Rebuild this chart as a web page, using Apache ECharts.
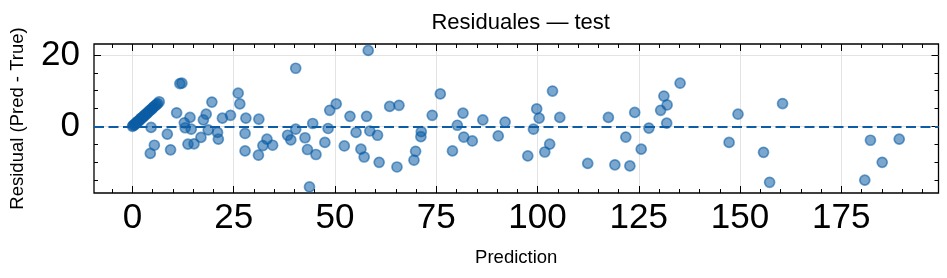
<!DOCTYPE html>
<html>
<head>
<meta charset="utf-8">
<script src="https://cdn.jsdelivr.net/npm/echarts@6/dist/echarts.min.js"></script>
<style>html,body{margin:0;padding:0;background:#fff;}#c{width:947px;height:278px;}</style>
</head>
<body>
<div id="c"></div>
<script>
// ---- data ----
var title = 'Residuales — test';
var xName = 'Prediction';
var yName = 'Residual (Pred - True)';
var xMajorTicks = [0, 25, 50, 75, 100, 125, 150, 175];
var yMajorTicks = [0, 20];
var xMinorTicks = [-5,5,10,15,20,30,35,40,45,55,60,65,70,80,85,90,95,105,110,115,120,130,135,140,145,155,160,165,170,180,185,190,195];
var yMinorTicks = [-15,-10,-5,5,10,15];
var prediction = [
  0.0,0.2,0.4,0.6,0.8,1.0,1.2,1.4,1.7,1.9,2.1,2.3,2.6,2.8,3.0,3.2,3.5,3.7,4.0,4.2,4.5,4.8,5.0,5.3,5.6,5.9,6.2,6.6,
  11.7,12.2,4.6,5.4,4.4,8.6,9.4,10.9,12.8,13.0,14.2,14.5,13.7,15.2,16.9,18.2,17.5,19.6,18.7,21.0,21.2,22.2,24.2,
  26.1,26.5,28.0,27.8,27.8,31.2,33.2,32.2,34.6,31.1,38.3,39.1,40.3,40.3,42.6,43.2,43.7,44.5,45.3,47.5,48.3,48.7,
  50.3,52.3,53.7,55.2,56.4,57.2,57.8,58.2,58.6,60.5,60.9,63.5,65.8,65.3,69.9,69.5,71.3,71.2,74.0,76.0,79.0,80.2,
  81.6,81.8,83.9,86.5,90.3,92.0,97.6,99.0,99.8,100.4,101.8,103.0,103.7,105.5,112.4,117.5,119.1,121.8,122.8,124.0,
  125.6,127.5,130.4,131.2,132.0,131.9,135.2,147.3,149.5,155.8,157.3,160.5,180.8,182.2,185.1,189.3
];
var residual = [
  0.0,0.3,0.4,0.5,0.9,1.0,1.3,1.4,1.6,2.0,2.2,2.4,2.6,2.9,3.1,3.3,3.6,3.8,4.1,4.4,4.6,4.9,5.2,5.5,5.8,6.1,6.4,6.9,
  12.0,12.1,-0.3,-5.3,-7.6,-2.2,-6.6,3.8,1.0,-0.4,2.5,-0.8,-5.0,-4.9,-3.1,3.4,1.8,6.8,-1.0,-1.7,-3.6,2.3,3.1,
  9.3,6.3,2.3,-2.0,-6.9,2.0,-3.6,-5.4,-5.3,-8.1,-2.5,-3.8,-0.8,16.3,-3.2,-6.5,-17.0,0.8,-7.9,-4.5,-0.6,4.5,
  6.3,-5.5,2.8,-1.7,-6.4,-8.6,2.8,21.3,-1.3,-2.5,-10.1,5.6,5.9,-11.4,-7.0,-9.5,-1.5,-2.9,3.1,9.1,-6.9,0.3,
  3.7,-3.0,-4.1,1.8,-2.7,1.2,-8.3,-0.8,4.9,2.3,-7.2,-5.0,9.9,2.5,-10.4,2.5,-10.8,-3.0,-11.1,3.9,
  -6.4,-0.5,4.5,8.5,6.0,0.9,12.1,-4.5,3.4,-7.3,-15.7,6.4,-15.1,-3.9,-10.1,-3.6
];
var points = prediction.map(function (p, i) { return [p, residual[i]]; });

// ---- chart ----
var FONT = '"Liberation Sans", Arial, Helvetica, sans-serif';
var X_MIN = -9.5, X_MAX = 199, Y_MIN = -18.7, Y_MAX = 23.1;
var C = '#0C5DA5';

function xAxisDef(pos, ticks, len, withLabels) {
  return {
    type: 'value', position: pos, min: X_MIN, max: X_MAX,
    axisLine: { show: false, onZero: false },
    axisTick: { show: true, inside: true, length: len, customValues: ticks, lineStyle: { color: '#000', width: 1 } },
    axisLabel: withLabels ? { show: true, customValues: ticks, fontSize: 35, color: '#000', fontFamily: FONT, margin: 8 } : { show: false },
    splitLine: withLabels ? { show: true, lineStyle: { color: '#e3e3e3', width: 1 } } : { show: false },
    name: withLabels ? xName : '', nameLocation: 'middle', nameGap: 55,
    nameTextStyle: { fontSize: 18.5, color: '#000', fontFamily: FONT }
  };
}
function yAxisDef(pos, ticks, len, withLabels) {
  return {
    type: 'value', position: pos, min: Y_MIN, max: Y_MAX,
    axisLine: { show: false, onZero: false },
    axisTick: { show: true, inside: true, length: len, customValues: ticks, lineStyle: { color: '#000', width: 1 } },
    axisLabel: withLabels ? { show: true, customValues: ticks, fontSize: 35, color: '#000', fontFamily: FONT, margin: 14 } : { show: false },
    splitLine: withLabels ? { show: true, lineStyle: { color: '#e3e3e3', width: 1 } } : { show: false },
    name: withLabels ? yName : '', nameLocation: 'middle', nameGap: 67, nameRotate: 90,
    nameTextStyle: { fontSize: 18.5, color: '#000', fontFamily: FONT }
  };
}

var chart = echarts.init(document.getElementById('c'), null, { renderer: 'canvas' });
chart.setOption({
  animation: false,
  backgroundColor: '#fff',
  title: {
    text: title, left: 515.7, top: 7, textAlign: 'center',
    textStyle: { fontSize: 22, fontWeight: 'normal', color: '#000', fontFamily: FONT }
  },
  grid: { left: 93, right: 8.5, top: 44, bottom: 85, show: true, borderColor: '#000', borderWidth: 1.3, backgroundColor: 'transparent' },
  xAxis: [
    xAxisDef('bottom', xMajorTicks, 7, true),
    xAxisDef('bottom', xMinorTicks, 4, false),
    xAxisDef('top', xMajorTicks, 7, false),
    xAxisDef('top', xMinorTicks, 4, false)
  ],
  yAxis: [
    yAxisDef('left', yMajorTicks, 7, true),
    yAxisDef('left', yMinorTicks, 4, false),
    yAxisDef('right', yMajorTicks, 7, false),
    yAxisDef('right', yMinorTicks, 4, false)
  ],
  series: [{
    type: 'scatter',
    xAxisIndex: 0, yAxisIndex: 0,
    data: points,
    symbolSize: 10,
    itemStyle: { color: 'rgba(12,93,165,0.68)', borderColor: 'rgba(12,93,165,0.72)', borderWidth: 1.7 },
    markLine: {
      silent: true, symbol: 'none', label: { show: false },
      lineStyle: { color: C, type: [10, 4.5], width: 2.2 },
      data: [{ yAxis: 0 }]
    },
    z: 3
  }]
});
</script>
</body>
</html>
